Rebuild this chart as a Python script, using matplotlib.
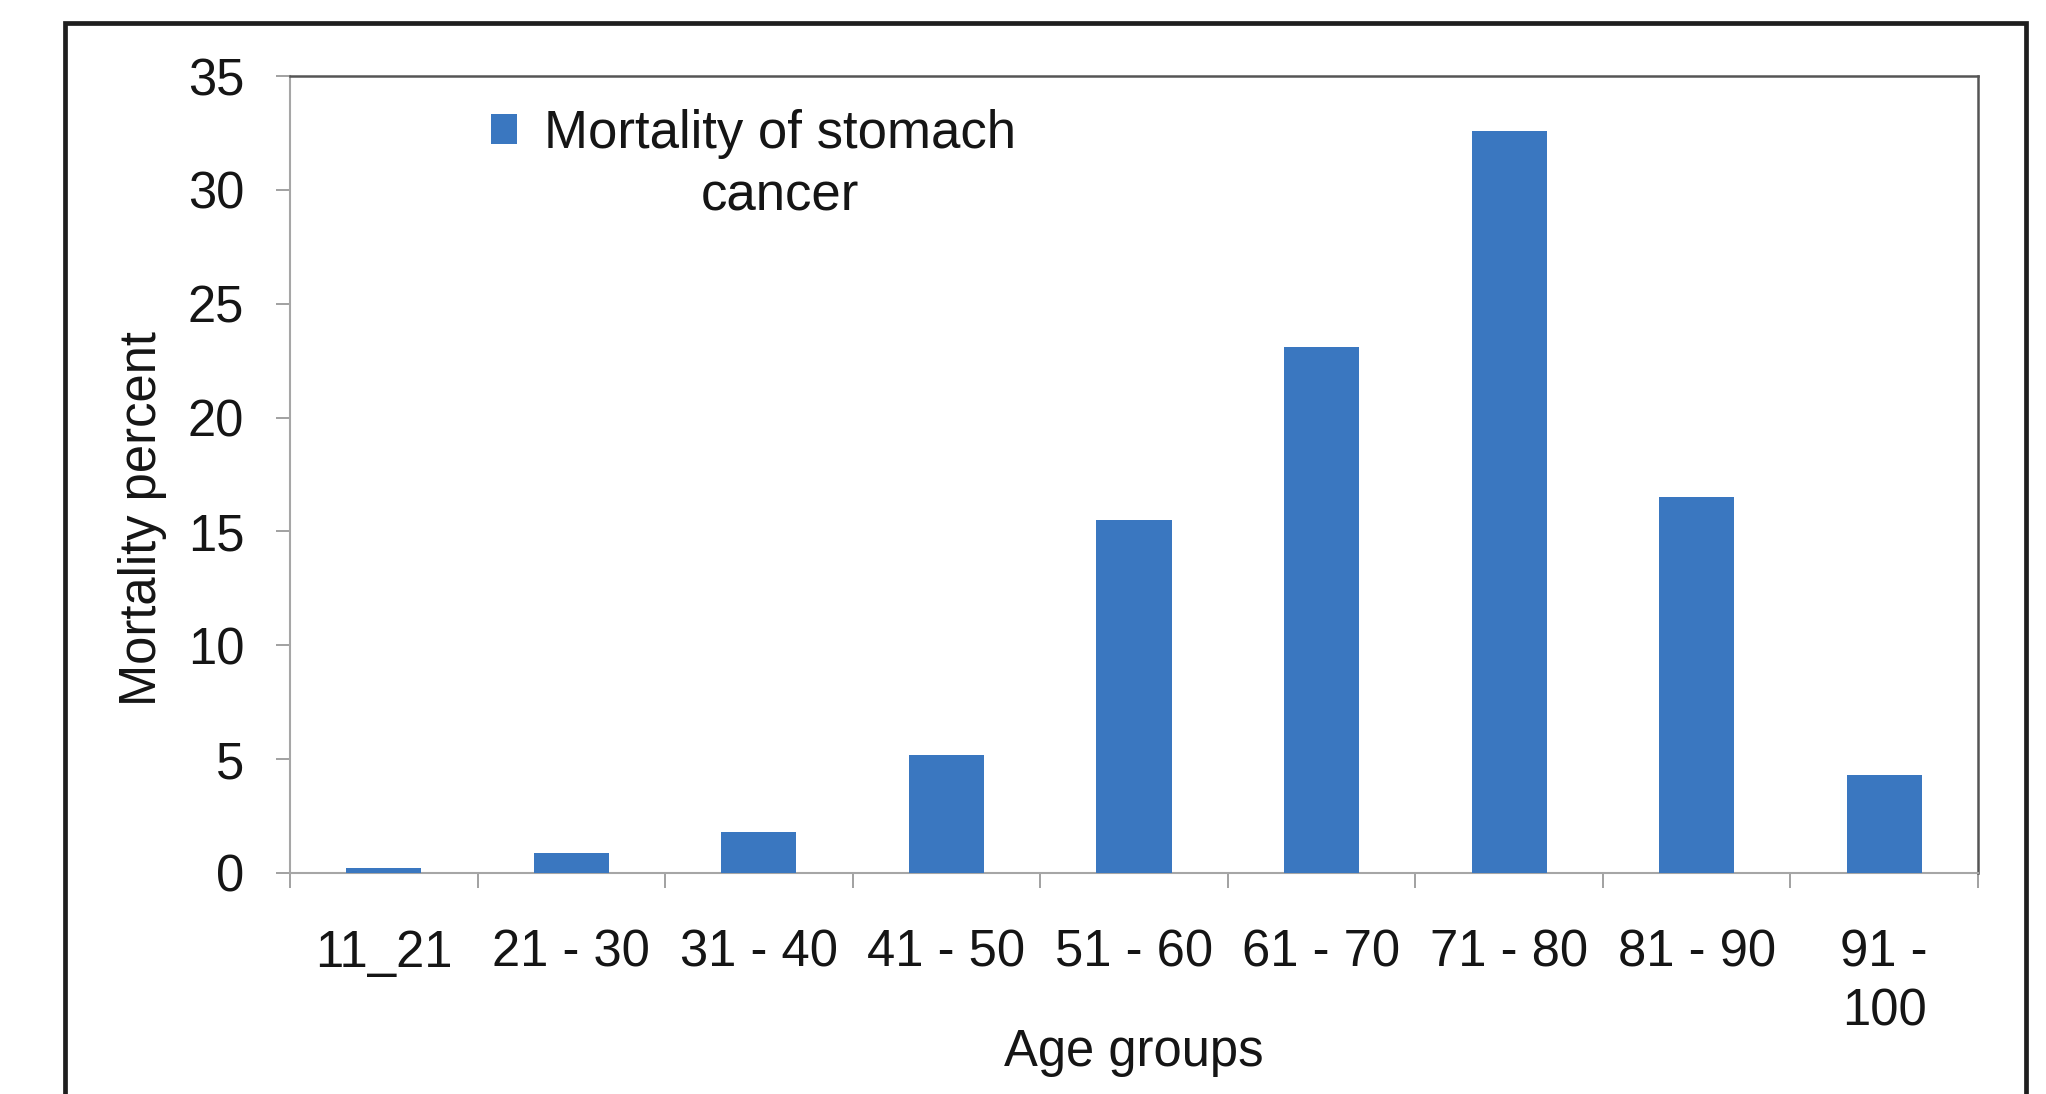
import matplotlib
matplotlib.use('Agg')
import matplotlib.pyplot as plt
import matplotlib.patches as mpatches
from matplotlib.legend_handler import HandlerPatch
import numpy as np

plt.rcParams['font.family'] = ['Liberation Sans', 'DejaVu Sans']

# data
age_groups = ['11_21', '21 - 30', '31 - 40', '41 - 50', '51 - 60',
              '61 - 70', '71 - 80', '81 - 90', '91 -\n100']
mortality = [0.2, 0.9, 1.8, 5.2, 15.5, 23.1, 32.6, 16.5, 4.3]
series_name = 'Mortality of stomach\ncancer'

bar_color = '#3A77C0'
text_color = '#151515'
fs = 36.5
leg_fs = 38

W, H = 2046, 1094
fig = plt.figure(figsize=(W / 100, H / 100), dpi=100)
ax = fig.add_axes([290 / W, 1 - 873 / H, (1978 - 290) / W, (873 - 76) / H])

x = np.arange(len(age_groups))
bars = ax.bar(x, mortality, width=0.4, color=bar_color, zorder=3)

ax.set_xlim(-0.5, len(age_groups) - 0.5)
ax.set_ylim(0, 35)
ax.set_yticks(np.arange(0, 36, 5))
ax.set_xticks(x)
ax.set_xticklabels(age_groups, fontsize=fs, color=text_color, linespacing=1.25)
ax.set_xticks(np.arange(-0.5, len(age_groups), 1), minor=True)
ax.tick_params(axis='x', which='major', length=0, pad=40)
ax.tick_params(axis='x', which='minor', length=11, width=1.3, color='#9a9a9a', direction='out')
ax.tick_params(axis='y', which='major', length=10, width=1.3, color='#9a9a9a',
               direction='out', pad=23, labelsize=fs, labelcolor=text_color)

for side in ['left', 'bottom']:
    ax.spines[side].set_color('#a6a6a6')
    ax.spines[side].set_linewidth(1.5)
for side in ['top', 'right']:
    ax.spines[side].set_color('#555555')
    ax.spines[side].set_linewidth(1.8)

ax.set_ylabel('Mortality percent', fontsize=fs, color=text_color)
ax.yaxis.set_label_coords(-0.073, 0.445)
ax.set_xlabel('Age groups', fontsize=fs, color=text_color)
ax.xaxis.set_label_coords(0.5, -0.195)


def square_patch(legend, orig_handle, xdescent, ydescent, width, height, fontsize):
    # keep the square beside the first line of the label
    return mpatches.Rectangle((-xdescent, -ydescent + 0.7 * fontsize), width, height)


leg = ax.legend([bars.patches[0]], [series_name],
                loc='upper left', bbox_to_anchor=(0.119, 0.958), frameon=False,
                fontsize=leg_fs, borderpad=0, borderaxespad=0,
                handlelength=0.5, handleheight=0.5, handletextpad=0.5,
                handler_map={mpatches.Rectangle: HandlerPatch(patch_func=square_patch)})
for t in leg.get_texts():
    t.set_multialignment('center')
    t.set_linespacing(1.3)
    t.set_color(text_color)

# dark frame around the whole chart, open at the bottom edge of the image
frame = mpatches.Rectangle((65 / W, -0.05), (2026 - 65) / W, (H - 23) / H + 0.05,
                           transform=fig.transFigure, fill=False,
                           linewidth=3.4, edgecolor='#1e1e1e')
fig.add_artist(frame)

fig.savefig('out.png', dpi=100)
